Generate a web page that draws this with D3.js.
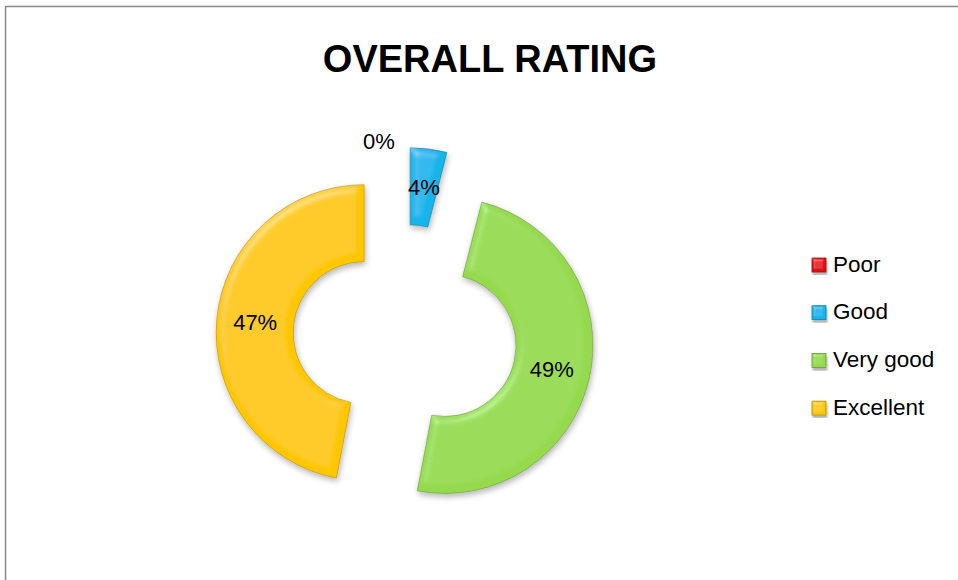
<!DOCTYPE html>
<html>
<head>
<meta charset="utf-8">
<script src="https://cdn.jsdelivr.net/npm/d3@7"></script>
<style>
  body { margin: 0; background: #fff; }
  svg { display: block; font-family: "Liberation Sans", Arial, sans-serif; }
</style>
</head>
<body>
<script>
// Data
const categories = ["Poor", "Good", "Very good", "Excellent"];
const values = [0, 4, 49, 47];
const colors = ["#E30B12", "#14B4EA", "#95D94E", "#FFC700"];
const chartTitle = "OVERALL RATING";

let width = 958, height = 580;

let svg = d3.select("body")
    .append("svg")
    .attr("width", width)
    .attr("height", height);

// bevel + shadow filter
let defs = svg.append("defs");
function bevel(id, blur, scale, shadow, strength) {
  let f = defs.append("filter")
      .attr("id", id)
      .attr("x", "-20%").attr("y", "-20%")
      .attr("width", "140%").attr("height", "140%");
  f.append("feGaussianBlur").attr("in", "SourceAlpha").attr("stdDeviation", blur).attr("result", "blur");
  let spec = f.append("feSpecularLighting")
      .attr("in", "blur")
      .attr("surfaceScale", scale)
      .attr("specularConstant", 0.8)
      .attr("specularExponent", 20)
      .attr("lighting-color", "#ffffff")
      .attr("result", "spec");
  spec.append("feDistantLight").attr("azimuth", 235).attr("elevation", 40);
  f.append("feComposite").attr("in", "spec").attr("in2", "SourceAlpha").attr("operator", "in").attr("result", "specIn");
  f.append("feComposite").attr("in", "SourceGraphic").attr("in2", "specIn")
      .attr("operator", "arithmetic").attr("k1", 0).attr("k2", 1).attr("k3", strength).attr("k4", 0)
      .attr("result", "lit");
  // drop shadow
  f.append("feGaussianBlur").attr("in", "SourceAlpha").attr("stdDeviation", shadow).attr("result", "sb");
  f.append("feOffset").attr("in", "sb").attr("dx", 1).attr("dy", 3).attr("result", "so");
  f.append("feComponentTransfer").attr("in", "so").attr("result", "sf")
      .append("feFuncA").attr("type", "linear").attr("slope", 0.3);
  let m = f.append("feMerge");
  m.append("feMergeNode").attr("in", "sf");
  m.append("feMergeNode").attr("in", "lit");
}
bevel("bevel", 4, 5, 3, 0.22);
bevel("bevelSmall", 1.5, 3, 1, 0.3);

// chart frame
svg.append("rect")
    .attr("x", 5.5).attr("y", 6.5)
    .attr("width", 1200).attr("height", 1200)
    .attr("fill", "none")
    .attr("stroke", "#888")
    .attr("stroke-width", 1.5);

// title
svg.append("text")
    .attr("x", 490).attr("y", 72)
    .attr("text-anchor", "middle")
    .style("font-size", "38px")
    .style("font-weight", "bold")
    .text(chartTitle);

// doughnut
const cx = 405, cy = 336.5;
const outerR = 148, innerR = 71, explode = 41;
const total = d3.sum(values);

let pie = d3.pie().sort(null).value(d => d.value);
let arc = d3.arc().innerRadius(innerR).outerRadius(outerR);

let slices = pie(categories.map((c, i) => ({ name: c, value: values[i], color: colors[i] })));

let g = svg.append("g").attr("transform", `translate(${cx},${cy})`);

function offset(d) {
  let a = (d.startAngle + d.endAngle) / 2;
  return [Math.sin(a) * explode, -Math.cos(a) * explode];
}

g.selectAll("path.slice")
    .data(slices)
    .enter()
    .append("path")
    .attr("class", "slice")
    .attr("d", arc)
    .attr("transform", d => `translate(${offset(d)})`)
    .attr("fill", d => d.data.color)
    .attr("stroke", d => d3.color(d.data.color).darker(1))
    .attr("stroke-width", 0.6)
    .attr("filter", "url(#bevel)");

// data labels
g.selectAll("text.label")
    .data(slices)
    .enter()
    .append("text")
    .attr("class", "label")
    .attr("transform", d => {
      let [ox, oy] = offset(d);
      let [lx, ly] = arc.centroid(d);
      if (d.data.value === 0) { lx -= 26; ly -= 45; } // zero slice: label pushed clear
      return `translate(${lx + ox},${ly + oy})`;
    })
    .attr("text-anchor", "middle")
    .attr("dy", "0.35em")
    .style("font-size", "22px")
    .text(d => Math.round(d.data.value / total * 100) + "%");

// legend
let legend = svg.append("g").attr("transform", "translate(812, 258)");
let item = legend.selectAll("g")
    .data(categories)
    .enter()
    .append("g")
    .attr("transform", (d, i) => `translate(0, ${i * 47.7})`);

item.append("rect")
    .attr("width", 14).attr("height", 14)
    .attr("fill", (d, i) => colors[i])
    .attr("stroke", (d, i) => d3.color(colors[i]).darker(1))
    .attr("stroke-width", 0.8)
    .attr("filter", "url(#bevelSmall)");

item.append("text")
    .attr("x", 21).attr("y", 13.5)
    .style("font-size", "22.5px")
    .text(d => d);
</script>
</body>
</html>
